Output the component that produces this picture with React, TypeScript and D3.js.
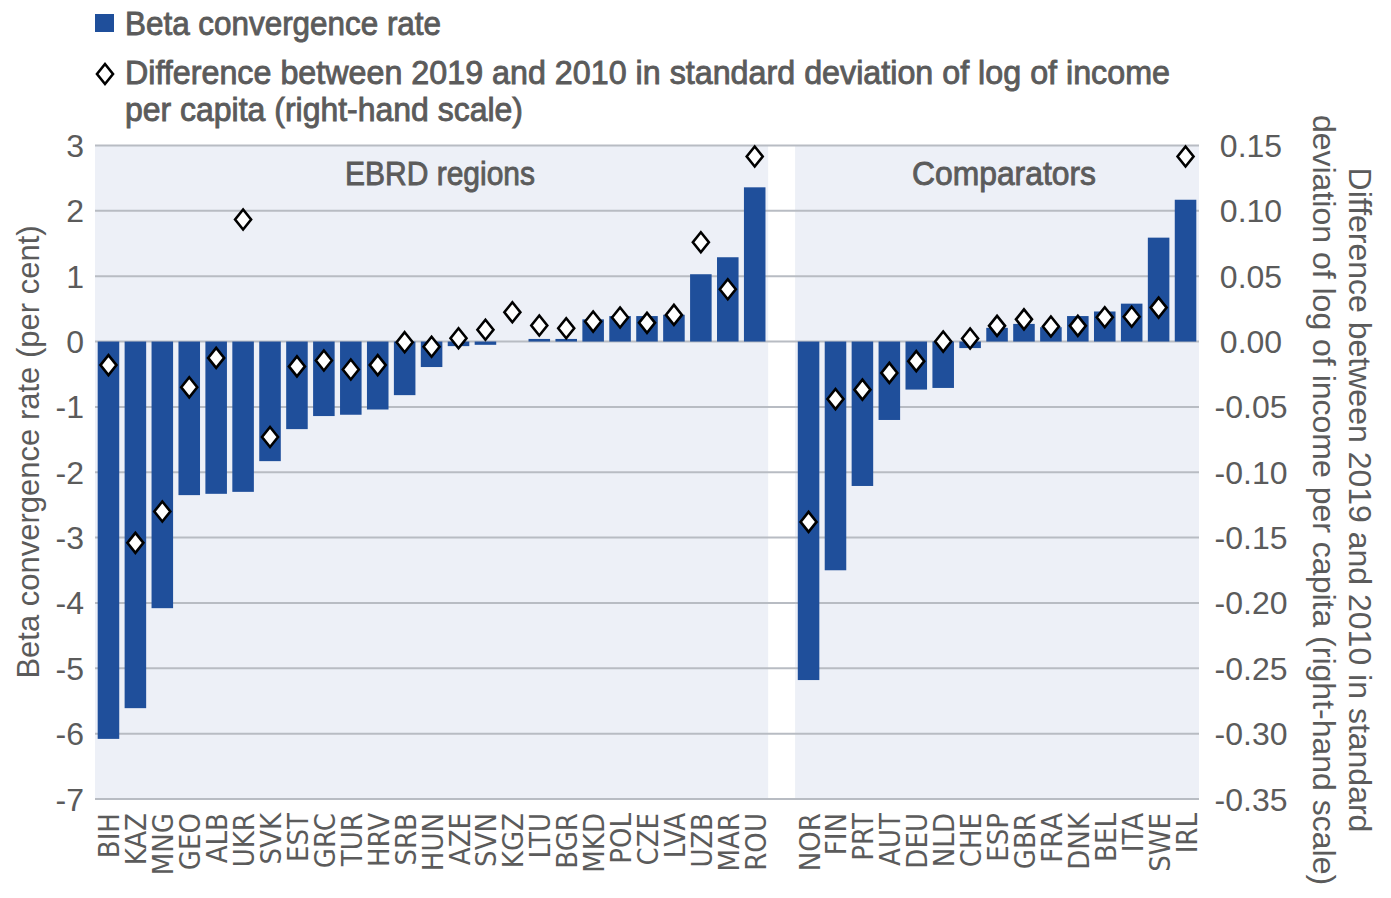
import React from 'react';
import * as d3 from 'd3';

// ---- Data ----
const ebrdCountries = ['BIH','KAZ','MNG','GEO','ALB','UKR','SVK','EST','GRC','TUR','HRV','SRB','HUN','AZE','SVN','KGZ','LTU','BGR','MKD','POL','CZE','LVA','UZB','MAR','ROU'];
const ebrdBeta = [-6.08,-5.61,-4.08,-2.35,-2.33,-2.30,-1.83,-1.34,-1.14,-1.12,-1.04,-0.82,-0.39,-0.07,-0.05,0.0,0.04,0.04,0.34,0.39,0.39,0.41,1.03,1.29,2.36];
const ebrdSigma = [-0.018,-0.154,-0.130,-0.035,-0.0125,0.0934,-0.073,-0.019,-0.0145,-0.0214,-0.018,-0.0005,-0.004,0.0025,0.009,0.0224,0.0123,0.0102,0.0153,0.0184,0.0143,0.0204,0.076,0.040,0.1416];

const compCountries = ['NOR','FIN','PRT','AUT','DEU','NLD','CHE','ESP','GBR','FRA','DNK','BEL','ITA','SWE','IRL'];
const compBeta = [-5.18,-3.50,-2.21,-1.20,-0.735,-0.71,-0.10,0.21,0.27,0.22,0.39,0.46,0.58,1.59,2.17];
const compSigma = [-0.138,-0.044,-0.0368,-0.024,-0.015,0.0,0.0023,0.012,0.017,0.0115,0.012,0.0186,0.019,0.026,0.1416];

const leftTicks = [3,2,1,0,-1,-2,-3,-4,-5,-6,-7];
const rightTicks = [0.15,0.10,0.05,0.0,-0.05,-0.10,-0.15,-0.20,-0.25,-0.30,-0.35];

const panelTitles = ['EBRD regions','Comparators'];
const legendBeta = 'Beta convergence rate';
const legendSigma = ['Difference between 2019 and 2010 in standard deviation of log of income','per capita (right-hand scale)'];
const leftTitle = 'Beta convergence rate (per cent)';
const rightTitle = ['Difference between 2019 and 2010 in standard','deviation of log of income per capita (right-hand scale)'];

// ---- Style ----
const BLUE = '#1f4f9b';
const PANEL = '#edf0f7';
const GRID = '#b8bcc3';
const TEXT = '#5b5b5b';
const SANS = '"Liberation Sans", Arial, sans-serif';
const NARROW = '"Liberation Sans Narrow", "Arial Narrow", "DejaVu Sans Condensed", sans-serif';

const W = 1391, H = 898;
const X0 = 95, X1 = 1199, YTOP = 145.5, YBOT = 799;

export default function App() {
  const GAP = '__gap';
  const domain = [...ebrdCountries, GAP, ...compCountries];
  const x = d3.scaleBand<string>().domain(domain).range([X0, X1]).paddingInner(0.2).paddingOuter(0.1);
  const yL = d3.scaleLinear().domain([-7, 3]).range([YBOT, YTOP]);
  const yR = d3.scaleLinear().domain([-0.35, 0.15]).range([YBOT, YTOP]);
  const step = x.step();
  const fmtR = (v: number) => d3.format('.2f')(v).replace('\u2212', '-');

  const rows = [
    ...ebrdCountries.map((c, i) => ({ c, b: ebrdBeta[i], s: ebrdSigma[i] })),
    ...compCountries.map((c, i) => ({ c, b: compBeta[i], s: compSigma[i] })),
  ];

  const diamond = 'M0,-10L8,0L0,10L-8,0Z';
  const p1x0 = X0, p1x1 = X0 + ebrdCountries.length * step;
  const p2x0 = X0 + (ebrdCountries.length + 1) * step, p2x1 = X1;

  const heading = {
    fontFamily: SANS, fontWeight: 'normal' as const, fill: TEXT, stroke: TEXT, strokeWidth: 0.9,
    lengthAdjust: 'spacingAndGlyphs',
  };

  return (
    <svg width={W} height={H} style={{ position: 'absolute', left: 0, top: 0, background: '#fff' }}>
      {/* panels */}
      <rect x={p1x0} y={YTOP} width={p1x1 - p1x0} height={YBOT - YTOP} fill={PANEL} />
      <rect x={p2x0} y={YTOP} width={p2x1 - p2x0} height={YBOT - YTOP} fill={PANEL} />
      {/* gridlines */}
      {leftTicks.map(t => (
        <line key={t} x1={X0} x2={X1} y1={yL(t)} y2={yL(t)} stroke={GRID} strokeWidth={2} />
      ))}
      {/* bars */}
      {rows.map(r => {
        const y0 = yL(0), y1 = yL(r.b);
        return (
          <rect key={r.c} x={x(r.c)} width={x.bandwidth()} y={Math.min(y0, y1)} height={Math.abs(y1 - y0)} fill={BLUE} />
        );
      })}
      {/* diamonds */}
      {rows.map(r => (
        <path key={'d' + r.c} d={diamond} transform={`translate(${(x(r.c) as number) + x.bandwidth() / 2},${yR(r.s)})`}
          fill="#fff" stroke="#000" strokeWidth={2.6} strokeLinejoin="miter" />
      ))}
      {/* panel titles */}
      <text x={440} y={185} textAnchor="middle" fontSize={34} textLength={190} {...heading}>{panelTitles[0]}</text>
      <text x={1004} y={185} textAnchor="middle" fontSize={34} textLength={184} {...heading}>{panelTitles[1]}</text>
      {/* left ticks */}
      {leftTicks.map(t => (
        <text key={'l' + t} x={84} y={yL(t)} dy="0.36em" textAnchor="end" fontFamily={SANS} fontSize={32} fill={TEXT}>{String(t)}</text>
      ))}
      {/* right ticks */}
      {rightTicks.map(t => (
        <text key={'r' + t} x={1251} y={yR(t)} dy="0.36em" textAnchor="middle" fontFamily={SANS} fontSize={32} fill={TEXT}>{fmtR(t)}</text>
      ))}
      {/* category labels */}
      {rows.map(r => (
        <text key={'c' + r.c} transform={`translate(${(x(r.c) as number) + x.bandwidth() / 2 + 11},813) rotate(-90)`}
          textAnchor="end" fontFamily={NARROW} fontSize={29} fill={TEXT}>{r.c}</text>
      ))}
      {/* left title */}
      <text transform={`translate(39,452) rotate(-90)`} textAnchor="middle" fontFamily={SANS} fontSize={31} fill={TEXT}>{leftTitle}</text>
      {/* right title */}
      <text transform={`translate(1349,500) rotate(90)`} textAnchor="middle" fontFamily={SANS} fontSize={32} fill={TEXT}>
        <tspan x={0} dy={0}>{rightTitle[0]}</tspan>
        <tspan x={0} dy={36}>{rightTitle[1]}</tspan>
      </text>
      {/* legend */}
      <rect x={95} y={14} width={19} height={18} fill={BLUE} />
      <text x={125} y={35} fontSize={33} textLength={316} {...heading}>{legendBeta}</text>
      <path d={diamond} transform="translate(105,74)" fill="#fff" stroke="#000" strokeWidth={2.6} />
      <text x={125} y={84} fontSize={33} textLength={1045} {...heading}>{legendSigma[0]}</text>
      <text x={125} y={121} fontSize={33} textLength={398} {...heading}>{legendSigma[1]}</text>
    </svg>
  );
}
